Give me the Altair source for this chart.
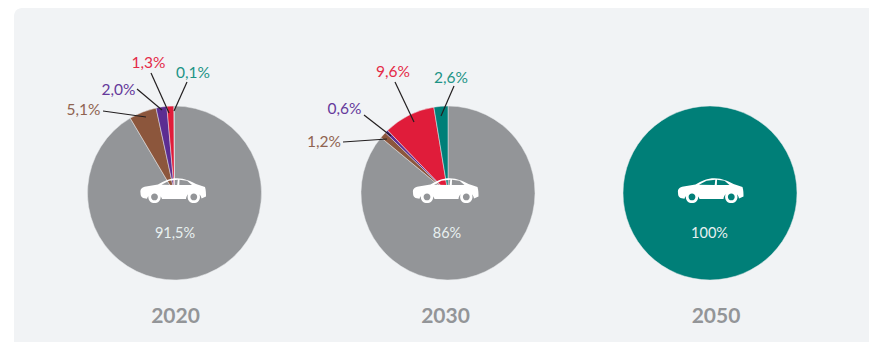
import math
import altair as alt
import pandas as pd

# Share of each powertrain per year, listed clockwise from twelve o'clock
YEARS = ["2020", "2030", "2050"]
SERIES = ["grey", "brown", "purple", "red", "teal"]
SHARES_2020 = [91.5, 5.1, 2.0, 1.3, 0.1]
SHARES_2030 = [86.0, 1.2, 0.6, 9.6, 2.6]
SHARES_2050 = [0.0, 0.0, 0.0, 0.0, 100.0]
CENTRE_LABELS = ["91,5%", "86%", "100%"]

SLICE_COLOURS = ["#939598", "#8c563c", "#5c2d91", "#e01c3a", "#007f78"]
TEXT_COLOURS = {"brown": "#8f6350", "purple": "#65399b", "red": "#e42a48", "teal": "#1d9486"}

# Pie layout on the canvas scale
PIE_X = [174.5, 448.0, 710.0]
PIE_Y = 193.0
PIE_R = 87
CAR_X = [173.0, 445.5, 710.5]
CAR_Y = 190.0
CENTRE_X = [175.0, 447.0, 709.5]
CENTRE_LABEL_Y = 233.5
YEAR_X = [175.5, 445.5, 716.0]
YEAR_LABEL_Y = 316.5

# Callouts: year, series, text, label x, label y, leader start x/y, leader end x/y
CALLOUTS = [
    ("2020", "brown", "5,1%", 83.5, 110, 103, 111, 146, 117),
    ("2020", "purple", "2,0%", 118.5, 90, 137, 89, 162, 110),
    ("2020", "red", "1,3%", 148.5, 63, 151, 73, 169, 113),
    ("2020", "teal", "0,1%", 193, 73, 187, 82, 174, 111),
    ("2030", "brown", "1,2%", 324, 142, 343, 142, 387, 139),
    ("2030", "purple", "0,6%", 344.5, 109, 364, 115, 391, 136),
    ("2030", "red", "9,6%", 393, 72, 395, 82, 414, 122),
    ("2030", "teal", "2,6%", 451, 78, 454, 86, 441, 116),
]


def ring(cx, cy, r, sweep):
    return (
        f"M{cx - r} {cy}A{r} {r} 0 0 {sweep} {cx + r} {cy}"
        f"A{r} {r} 0 0 {sweep} {cx - r} {cy}Z"
    )


# Car silhouette around the origin, with cut-out windows and hollow wheels
CAR_PATH = (
    "M-32.5 3C-33 -1 -31 -3 -27 -3.5L-15 -5.5C-9 -9 -3 -11.7 4 -11.7"
    "C12 -11.7 18 -8.5 23 -6L32 -3C33 0 33 4 33 6.5L28.5 8.5"
    "A7.8 7.8 0 0 0 13 9L-11 9A7.8 7.8 0 0 0 -26 8.8"
    "L-30 8C-32 7 -32.5 5 -32.5 3Z"
    "M-11.5 -5.3L4.2 -5L4.8 -10.3L-4 -9.3Z"
    "M6.3 -5L19 -5L14 -9.3L6.5 -10.3Z"
    + ring(20.8, 6.9, 6.2, 1) + ring(20.8, 6.9, 3.4, 0)
    + ring(-18.5, 6.9, 6.2, 1) + ring(-18.5, 6.9, 3.4, 0)
)

rows = []
for year, shares, px in zip(YEARS, [SHARES_2020, SHARES_2030, SHARES_2050], PIE_X):
    start = 0.0
    for name, share in zip(SERIES, shares):
        end = start + share
        if share > 0:
            rows.append({
                "year": year, "series": name, "share": share, "x": px, "y": PIE_Y,
                "t0": start / 100 * 2 * math.pi, "t1": end / 100 * 2 * math.pi,
            })
        start = end
slices = pd.DataFrame(rows)

callouts = pd.DataFrame(
    CALLOUTS, columns=["year", "series", "text", "lx", "ly", "x1", "y1", "x2", "y2"]
)
callouts["colour"] = callouts["series"].map(TEXT_COLOURS)

per_year = pd.DataFrame({
    "year": YEARS, "year_x": YEAR_X, "centre_x": CENTRE_X, "car_x": CAR_X,
    "centre": CENTRE_LABELS,
    "car_y": CAR_Y, "label_y": CENTRE_LABEL_Y, "year_y": YEAR_LABEL_Y,
})

W, H = 869, 342
SX = alt.Scale(domain=[0, W], range=[0, W])
SY = alt.Scale(domain=[0, H], range=[0, H])
FONT = "Lato"


def xpos(field):
    return alt.X(f"{field}:Q", scale=SX, axis=None)


def ypos(field):
    return alt.Y(f"{field}:Q", scale=SY, axis=None)


panel = alt.Chart(pd.DataFrame({"a": [0]})).mark_rect(
    fill="#f1f3f5", cornerRadiusTopLeft=8
).encode(x=alt.value(14), x2=alt.value(W + 20), y=alt.value(8), y2=alt.value(H + 20))

pies = alt.Chart(slices).mark_arc(
    outerRadius=PIE_R, stroke="#e9eaec", strokeWidth=0.5
).encode(
    x=xpos("x"), y=ypos("y"),
    theta=alt.Theta("t0:Q", scale=None),
    theta2=alt.Theta2("t1:Q"),
    color=alt.Color("series:N", scale=alt.Scale(domain=SERIES, range=SLICE_COLOURS), legend=None),
)

leaders = alt.Chart(callouts).mark_rule(color="#231f20", strokeWidth=1.2).encode(
    x=xpos("x1"), y=ypos("y1"), x2="x2:Q", y2="y2:Q",
)

labels = alt.Chart(callouts).mark_text(
    font=FONT, fontSize=15.5, align="center", baseline="middle"
).encode(
    x=xpos("lx"), y=ypos("ly"),
    text="text:N",
    color=alt.Color("colour:N", scale=None),
)

cars = alt.Chart(per_year).mark_point(
    shape=CAR_PATH, size=4, filled=True, fill="white", strokeWidth=0, opacity=1
).encode(x=xpos("car_x"), y=ypos("car_y"))

centre_text = alt.Chart(per_year).mark_text(
    font=FONT, fontSize=14.5, color="#e8f0f0", align="center", baseline="middle"
).encode(x=xpos("centre_x"), y=ypos("label_y"), text="centre:N")

year_text = alt.Chart(per_year).mark_text(
    font=FONT, fontSize=21, fontWeight="bold", color="#939598", align="center", baseline="middle"
).encode(x=xpos("year_x"), y=ypos("year_y"), text="year:N")

chart = alt.layer(panel, pies, leaders, labels, cars, centre_text, year_text).properties(
    width=W, height=H, padding=0,
    autosize=alt.AutoSizeParams(type="none"),
    background="white",
).configure_view(stroke=None)

chart.save("out.html", embed_options={"renderer": "svg", "actions": False})
